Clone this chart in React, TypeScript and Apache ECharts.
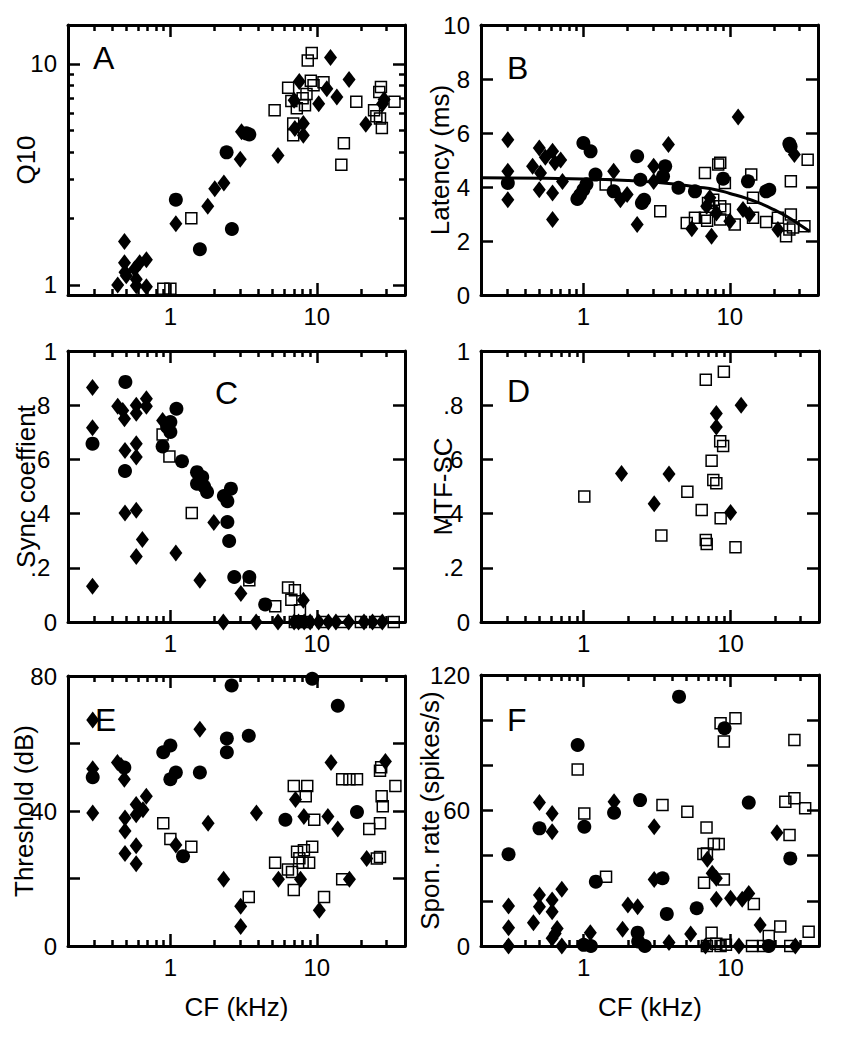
import React, { useEffect, useRef } from "react";
import * as echarts from "echarts";

type Pt = [number, number];

// ---------- shared x axis (CF, kHz) ----------
const X_MIN = 0.2;
const X_MAX = 40;
const xMajorTicks = [1, 10];
const xMinorTicks = [0.3, 0.4, 0.5, 0.6, 0.7, 0.8, 0.9, 2, 3, 4, 5, 6, 7, 8, 9, 20, 30];
const xLabel = "CF (kHz)";

// ---------- A: Q10 ----------
const q10MajorTicks = [1, 10];
const q10MinorTicks = [2, 3, 4, 5, 6, 7, 8, 9];
const q10Diamonds: Pt[] = [
  [0.486, 1.57], [0.486, 1.26], [0.437, 1.0], [0.49, 1.14], [0.57, 1.18], [0.585, 1.06],
  [0.617, 1.26], [0.686, 1.3], [0.686, 0.98], [0.585, 0.99], [0.5, 1.1],
  [1.09, 1.89], [1.8, 2.27], [2.01, 2.72], [2.32, 2.89], [3.0, 3.7], [3.06, 4.93],
  [5.43, 3.85], [7.08, 5.1], [7.0, 6.84], [7.59, 8.33], [8.09, 5.37], [8.09, 4.76],
  [10.3, 6.61], [11.7, 7.72], [12.4, 10.7], [13.7, 7.08], [16.6, 8.5], [21.6, 5.33],
  [28.1, 6.61], [28.8, 6.9],
];
const q10Circles: Pt[] = [
  [1.09, 2.43], [1.59, 1.45], [2.42, 3.98], [2.63, 1.79], [3.46, 4.79], [3.3, 4.85],
];
const q10Squares: Pt[] = [
  [0.895, 0.96], [1.0, 0.96], [1.39, 2.0], [5.15, 6.17], [6.37, 7.8], [6.7, 6.8],
  [6.9, 5.37], [6.9, 4.76], [8.67, 10.35], [9.23, 11.2], [9.1, 8.4], [9.5, 8.0],
  [8.5, 7.3], [8.3, 6.5], [11.1, 8.27], [15.3, 4.37], [14.7, 3.5], [18.6, 6.75],
  [24.6, 6.17], [26.7, 7.46], [27.4, 7.86], [27.0, 5.66], [27.8, 5.13], [33.9, 6.75],
  [25.5, 5.8], [7.3, 6.3], [8.0, 7.0],
];

// ---------- B: Latency ----------
const latTicks = [0, 2, 4, 6, 8, 10];
const latDiamonds: Pt[] = [
  [0.305, 5.75], [0.305, 4.58], [0.305, 3.53], [0.45, 4.77], [0.5, 5.44], [0.5, 3.9],
  [0.51, 4.52], [0.616, 5.32], [0.616, 3.78], [0.616, 2.8], [0.7, 5.0], [0.72, 4.2],
  [0.64, 4.9], [0.55, 5.1], [1.61, 4.58], [1.79, 3.53], [1.99, 3.72], [2.33, 2.61],
  [3.02, 4.77], [3.02, 4.2], [3.81, 5.57], [5.5, 2.45], [7.5, 2.18], [6.95, 3.29],
  [8.1, 3.04], [10.0, 2.73], [11.4, 6.59], [12.3, 3.17], [13.6, 2.98], [21.3, 2.43],
  [27.6, 5.2], [7.3, 3.6],
];
const latCircles: Pt[] = [
  [0.305, 4.15], [0.91, 3.56], [1.0, 3.9], [1.0, 5.63], [1.12, 5.32], [1.21, 4.46],
  [1.61, 3.84], [2.33, 5.14], [2.45, 4.27], [2.51, 3.41], [2.6, 3.53], [3.62, 4.77],
  [3.5, 4.4], [4.46, 3.97], [5.78, 3.84], [9.0, 4.31], [13.3, 4.21], [17.7, 3.84],
  [18.6, 3.9], [25.5, 5.6], [26, 5.5], [1.05, 4.1], [0.95, 3.7],
];
const latSquares: Pt[] = [
  [1.42, 4.09], [3.35, 3.1], [5.08, 2.67], [5.78, 2.86], [6.76, 4.52], [6.76, 2.86],
  [7.1, 3.41], [7.7, 3.53], [8.33, 4.83], [8.6, 4.9], [8.6, 3.29], [8.6, 2.8],
  [9.25, 4.15], [9.25, 3.17], [10.8, 2.61], [14.0, 4.46], [14.4, 2.86], [14.4, 3.6],
  [17.7, 2.7], [21.3, 2.86], [24.2, 2.18], [26.1, 4.21], [26.1, 2.98], [25.5, 2.43],
  [27, 2.5], [32.3, 2.55], [34.0, 5.01], [7.0, 2.75],
];
const latFitX = [0.2, 1, 2, 4, 6, 8, 10, 13, 16, 20, 25, 30, 35];
const latFitY = [4.34, 4.3, 4.24, 4.12, 4.0, 3.9, 3.76, 3.58, 3.4, 3.16, 2.88, 2.6, 2.36];

// ---------- C: Sync coefficient ----------
const unitTicks = [0, 0.2, 0.4, 0.6, 0.8, 1];
const syncDiamonds: Pt[] = [
  [0.294, 0.865], [0.294, 0.717], [0.294, 0.132], [0.437, 0.796], [0.473, 0.78],
  [0.486, 0.75], [0.49, 0.633], [0.49, 0.402], [0.585, 0.8], [0.585, 0.77],
  [0.585, 0.658], [0.585, 0.609], [0.585, 0.412], [0.585, 0.242], [0.644, 0.304],
  [0.686, 0.824], [0.686, 0.796], [0.885, 0.744], [1.09, 0.255], [1.59, 0.154],
  [1.98, 0.367], [2.3, 0], [3.03, 0.105], [3.85, 0], [5.43, 0], [8.09, 0.08],
  [7.0, 0], [7.5, 0], [8.2, 0], [9.0, 0], [10.3, 0], [12.0, 0], [13.5, 0], [16.5, 0],
  [21, 0], [24, 0], [28, 0],
];
const syncCircles: Pt[] = [
  [0.294, 0.658], [0.493, 0.886], [0.49, 0.557], [0.885, 0.648], [1.0, 0.738],
  [1.0, 0.701], [1.1, 0.787], [1.2, 0.593], [1.52, 0.553], [1.52, 0.51], [1.65, 0.535],
  [1.78, 0.48], [1.7, 0.5], [2.32, 0.465], [2.45, 0.446], [2.59, 0.492], [2.45, 0.369],
  [2.52, 0.299], [2.73, 0.166], [3.46, 0.166], [4.44, 0.065], [0.95, 0.72],
];
const syncSquares: Pt[] = [
  [0.885, 0.692], [0.985, 0.611], [1.4, 0.402], [3.46, 0.154], [5.2, 0.058],
  [6.36, 0.127], [7.08, 0.117], [6.7, 0.082], [7.67, 0.043], [7.08, 0], [8.5, 0],
  [11, 0], [15, 0], [20, 0], [25, 0], [33.5, 0],
];

// ---------- D: MTF-SC ----------
const mtfDiamonds: Pt[] = [
  [1.81, 0.548], [3.02, 0.436], [3.81, 0.546], [8.0, 0.769], [8.0, 0.72], [10.0, 0.404],
  [11.8, 0.8],
];
const mtfSquares: Pt[] = [
  [1.01, 0.463], [3.38, 0.319], [5.08, 0.481], [6.36, 0.413], [6.78, 0.894],
  [6.78, 0.303], [6.88, 0.288], [7.43, 0.595], [7.63, 0.524], [8.0, 0.512], [8.5, 0.667],
  [8.9, 0.649], [8.56, 0.383], [9.0, 0.923], [10.8, 0.276],
];

// ---------- E: Threshold ----------
const thrTicks = [0, 20, 40, 60, 80];
const thrLabels = [0, 40, 80];
const thrDiamonds: Pt[] = [
  [0.295, 67], [0.295, 52.5], [0.295, 39.4], [0.435, 54.4], [0.485, 49.4], [0.49, 37.9],
  [0.49, 34.1], [0.49, 27.4], [0.584, 41.9], [0.584, 38.9], [0.584, 29.7], [0.584, 24.4],
  [0.65, 40.4], [0.685, 44.4], [1.09, 29.9], [1.59, 64.2], [1.81, 36.4], [2.31, 19.8],
  [3.02, 11.8], [3.02, 5.8], [3.87, 39.4], [5.47, 19.8], [7.15, 43.4], [7.74, 19.8],
  [8.16, 38.4], [10.4, 10.6], [11.9, 38.4], [12.5, 54.4], [13.9, 34.7], [16.7, 19.8],
  [21.9, 25.9], [29.4, 54.7], [0.46, 53.5],
];
const thrCircles: Pt[] = [
  [0.295, 50], [0.485, 52.9], [0.894, 57.4], [1.0, 59.4], [1.0, 49.4], [1.09, 51.4],
  [1.22, 26.6], [1.59, 51.4], [2.43, 61.5], [2.43, 57.4], [2.62, 77.2], [3.43, 62.3],
  [6.1, 37.4], [9.3, 79.2], [13.9, 71.2], [18.8, 39.7],
];
const thrSquares: Pt[] = [
  [0.894, 36.4], [1.0, 31.7], [1.39, 29.4], [3.43, 14.5], [5.19, 24.7], [6.35, 22.7],
  [6.77, 21.9], [6.96, 16.6], [6.96, 47.4], [7.33, 27.9], [8.0, 24.7], [8.16, 28.4],
  [8.6, 47.4], [8.4, 44.4], [8.86, 24.7], [9.3, 29.4], [9.6, 37.4], [11.2, 14.5],
  [14.9, 49.4], [16.7, 49.4], [18.8, 49.4], [14.9, 19.8], [22.8, 34.7], [25.7, 25.9],
  [27.0, 26.4], [27.0, 36.4], [27.0, 51.9], [27.7, 44.4], [28.2, 41.4], [34.4, 47.4],
  [7.6, 26], [27.5, 53],
];

// ---------- F: Spontaneous rate ----------
const sponTicks = [0, 20, 40, 60, 80, 100, 120];
const sponLabels = [0, 60, 120];
const sponDiamonds: Pt[] = [
  [0.308, 17.7], [0.308, 8.1], [0.308, 0], [0.455, 10.3], [0.5, 63.5], [0.5, 22.6],
  [0.5, 17.4], [0.61, 58.7], [0.61, 50.6], [0.61, 20.4], [0.61, 15.2], [0.61, 3.4],
  [0.66, 7.8], [0.71, 0], [0.71, 25.1], [1.11, 5.9], [1.61, 63.9], [1.84, 7.4],
  [2.0, 18.2], [2.33, 17.4], [3.02, 52.8], [3.02, 29.5], [3.81, 1.5], [5.35, 5.3],
  [6.75, 0], [6.95, 38.4], [7.5, 32.2], [8.0, 30.0], [8.0, 20.7], [10.0, 21.1],
  [11.4, 0], [12.0, 20.7], [13.3, 23.3], [15.9, 9.3], [20.7, 50.2], [27.6, 0], [0.64, 5.5],
];
const sponCircles: Pt[] = [
  [0.308, 40.6], [0.5, 52.1], [0.91, 89], [1.01, 52.8], [1.0, 0.5], [1.12, 0],
  [1.21, 28.5], [1.61, 59], [2.33, 5.9], [2.42, 64.6], [2.61, 0], [3.44, 30],
  [3.68, 14.2], [4.46, 110.4], [5.88, 16.7], [9.1, 96.4], [13.3, 63.5], [18.2, 0],
  [25.5, 38.8], [2.35, 2],
];
const sponSquares: Pt[] = [
  [0.91, 78.2], [1.01, 58.7], [1.42, 30.7], [3.44, 62.4], [5.08, 59.5], [6.53, 40.7],
  [6.6, 28], [6.86, 52.5], [6.9, 41], [7.43, 5.9], [7.7, 45.2], [8.3, 45.2], [8.55, 98.6],
  [9.0, 90.5], [9.0, 29.5], [10.8, 100.8], [14.4, 18.6], [18.2, 4.4], [21.8, 8.6],
  [23.6, 63.9], [25.2, 49.2], [27.2, 91.2], [27.2, 65.4], [32.2, 61], [34, 6.3],
  [6.9, 0], [8.55, 0], [14.0, 0], [16.8, 0], [25.5, 0], [8, 1], [9.3, 0.5],
];

const decimalFmt = (v: number) => {
  if (v === 0) return "0";
  if (v === 1) return "1";
  return String(v).replace(/^0/, "") + " ";
};

interface Panel {
  letter: string;
  letterLeft: number;
  letterTop: number;
  left: number;
  top: number;
  width: number;
  height: number;
  yName: string;
  yNameGap: number;
  yLog: boolean;
  yMin: number;
  yMax: number;
  yTicks: number[];
  yMinorTicks?: number[];
  yLabels: number[];
  yFmt?: (v: number) => string;
  xName: boolean;
  diamonds: Pt[];
  circles: Pt[];
  squares: Pt[];
  fit?: { x: number[]; y: number[] };
}

const panels: Panel[] = [
  {
    letter: "A", letterLeft: 93, letterTop: 42, left: 68, top: 25, width: 337, height: 270,
    yName: "Q10", yNameGap: 29, yLog: true, yMin: 0.9, yMax: 15,
    yTicks: q10MajorTicks, yMinorTicks: q10MinorTicks, yLabels: q10MajorTicks, xName: false,
    diamonds: q10Diamonds, circles: q10Circles, squares: q10Squares,
  },
  {
    letter: "B", letterLeft: 507, letterTop: 52, left: 481, top: 25, width: 337, height: 270,
    yName: "Latency (ms)", yNameGap: 28, yLog: false, yMin: 0, yMax: 10,
    yTicks: latTicks, yLabels: latTicks, xName: false,
    diamonds: latDiamonds, circles: latCircles, squares: latSquares,
    fit: { x: latFitX, y: latFitY },
  },
  {
    letter: "C", letterLeft: 215, letterTop: 377, left: 68, top: 351, width: 337, height: 271,
    yName: "Sync coeffient", yNameGap: 29, yLog: false, yMin: 0, yMax: 1,
    yTicks: unitTicks, yLabels: unitTicks, yFmt: decimalFmt, xName: false,
    diamonds: syncDiamonds, circles: syncCircles, squares: syncSquares,
  },
  {
    letter: "D", letterLeft: 507, letterTop: 375, left: 481, top: 351, width: 338, height: 271,
    yName: "MTF-SC", yNameGap: 25, yLog: false, yMin: 0, yMax: 1,
    yTicks: unitTicks, yLabels: unitTicks, yFmt: decimalFmt, xName: false,
    diamonds: mtfDiamonds, circles: [], squares: mtfSquares,
  },
  {
    letter: "E", letterLeft: 95, letterTop: 704, left: 68, top: 676, width: 337, height: 270,
    yName: "Threshold (dB)", yNameGap: 31, yLog: false, yMin: 0, yMax: 80,
    yTicks: thrTicks, yLabels: thrLabels, xName: true,
    diamonds: thrDiamonds, circles: thrCircles, squares: thrSquares,
  },
  {
    letter: "F", letterLeft: 507, letterTop: 704, left: 481, top: 675, width: 338, height: 271,
    yName: "Spon. rate (spikes/s)", yNameGap: 38, yLog: false, yMin: 0, yMax: 120,
    yTicks: sponTicks, yLabels: sponLabels, xName: true,
    diamonds: sponDiamonds, circles: sponCircles, squares: sponSquares,
  },
];

const B = "#000";
const tick = (vals: number[], len: number) => ({
  show: true, inside: true, length: len, customValues: vals, lineStyle: { color: B, width: 2.5 },
});
const line = (show: boolean) => ({ show, onZero: false, lineStyle: { color: B, width: 3 } });

function buildOption() {
  const grid: any[] = [];
  const xAxis: any[] = [];
  const yAxis: any[] = [];
  const series: any[] = [];
  const title: any[] = [];

  panels.forEach((p, gi) => {
    grid.push({ left: p.left, top: p.top, width: p.width, height: p.height });

    const xb = {
      type: "log", logBase: 10, min: X_MIN, max: X_MAX, gridIndex: gi,
      splitLine: { show: false }, minorTick: { show: false }, minorSplitLine: { show: false },
    };
    const xi = xAxis.length;
    const xMain: any = {
      ...xb, position: "bottom", axisLine: line(true), axisTick: tick(xMajorTicks, 12),
      axisLabel: { customValues: xMajorTicks, fontSize: 24, color: B, margin: 9 },
    };
    if (p.xName) {
      xMain.name = xLabel;
      xMain.nameLocation = "middle";
      xMain.nameGap = 48;
      xMain.nameMoveOverlap = false;
      xMain.nameTextStyle = { fontSize: 26, color: B };
    }
    xAxis.push(xMain);
    xAxis.push({ ...xb, position: "bottom", axisLine: line(false), axisTick: tick(xMinorTicks, 6), axisLabel: { show: false } });
    xAxis.push({ ...xb, position: "top", axisLine: line(true), axisTick: tick(xMajorTicks, 12), axisLabel: { show: false } });
    xAxis.push({ ...xb, position: "top", axisLine: line(false), axisTick: tick(xMinorTicks, 6), axisLabel: { show: false } });

    const yb: any = {
      type: p.yLog ? "log" : "value", min: p.yMin, max: p.yMax, gridIndex: gi,
      splitLine: { show: false }, minorTick: { show: false }, minorSplitLine: { show: false },
    };
    if (p.yLog) yb.logBase = 10;
    const yi = yAxis.length;
    const yMain: any = {
      ...yb, position: "left", axisLine: line(true), axisTick: tick(p.yTicks, 12),
      axisLabel: { customValues: p.yLabels, fontSize: 24, color: B, margin: 11 },
      name: p.yName, nameLocation: "middle", nameGap: p.yNameGap, nameMoveOverlap: false,
      nameTextStyle: { fontSize: 26, color: B },
    };
    if (p.yFmt) yMain.axisLabel.formatter = p.yFmt;
    yAxis.push(yMain);
    yAxis.push({ ...yb, position: "right", axisLine: line(true), axisTick: tick(p.yTicks, 12), axisLabel: { show: false } });
    if (p.yMinorTicks) {
      yAxis.push({ ...yb, position: "left", axisLine: line(false), axisTick: tick(p.yMinorTicks, 6), axisLabel: { show: false } });
      yAxis.push({ ...yb, position: "right", axisLine: line(false), axisTick: tick(p.yMinorTicks, 6), axisLabel: { show: false } });
    }

    series.push({
      type: "scatter", xAxisIndex: xi, yAxisIndex: yi, data: p.squares, symbol: "rect", symbolSize: 11,
      itemStyle: { color: "rgba(255,255,255,0)", borderColor: B, borderWidth: 1.5, opacity: 1 },
    });
    series.push({
      type: "scatter", xAxisIndex: xi, yAxisIndex: yi, data: p.diamonds, symbol: "diamond", symbolSize: [13, 17],
      itemStyle: { color: B, opacity: 1 },
    });
    if (p.circles.length) {
      series.push({
        type: "scatter", xAxisIndex: xi, yAxisIndex: yi, data: p.circles, symbol: "circle", symbolSize: 14,
        itemStyle: { color: B, opacity: 1 },
      });
    }
    if (p.fit) {
      series.push({
        type: "line", xAxisIndex: xi, yAxisIndex: yi, smooth: true, showSymbol: false,
        data: p.fit.x.map((x, i) => [x, p.fit!.y[i]]), lineStyle: { color: B, width: 3 },
      });
    }

    title.push({
      text: p.letter, left: p.letterLeft, top: p.letterTop, padding: 0,
      textStyle: { fontSize: 32, fontWeight: "normal", color: B },
    });
  });

  return { animation: false, title, grid, xAxis, yAxis, series };
}

export default function App() {
  const ref = useRef<HTMLDivElement>(null);
  useEffect(() => {
    document.body.style.margin = "0";
    if (!ref.current) return;
    const chart = echarts.init(ref.current, undefined, { renderer: "svg" });
    chart.setOption(buildOption() as any);
    return () => chart.dispose();
  }, []);
  return <div ref={ref} style={{ width: 844, height: 1050 }} />;
}
